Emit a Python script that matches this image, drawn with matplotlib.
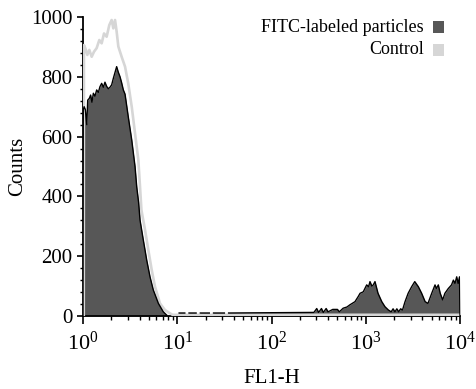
import numpy as np
import matplotlib
matplotlib.use("Agg")
import matplotlib.pyplot as plt
from matplotlib.ticker import MultipleLocator, LogLocator, NullFormatter
from matplotlib.patches import Rectangle

plt.rcParams['font.family'] = ['Liberation Serif', 'DejaVu Serif']
plt.rcParams['mathtext.fontset'] = 'custom'
plt.rcParams['mathtext.rm'] = 'Liberation Serif'
plt.rcParams['mathtext.it'] = 'Liberation Serif:italic'

# FITC-labeled particles: log10(FL1-H) positions and counts
fitc_log10 = [0.0, 0.003, 0.012, 0.025, 0.04, 0.05, 0.067, 0.081, 0.095, 0.11, 0.127, 0.145,
              0.163, 0.18, 0.198, 0.216, 0.233, 0.251, 0.269, 0.286, 0.304, 0.322, 0.34,
              0.357, 0.375, 0.393, 0.41, 0.428, 0.446, 0.48, 0.517, 0.552, 0.57, 0.59,
              0.605, 0.64, 0.676, 0.711, 0.746, 0.8, 0.852, 0.888, 0.92,
              1.0, 1.01, 1.02, 1.08, 1.085, 1.12, 1.125, 1.2, 1.205, 1.24, 1.245, 1.34,
              1.345, 1.38, 1.385, 1.5, 1.505, 1.54, 1.545,
              2.45, 2.48, 2.5, 2.53, 2.55, 2.58, 2.6, 2.65, 2.7, 2.72, 2.76, 2.8, 2.83,
              2.886, 2.92, 2.94, 2.974, 3.01, 3.03, 3.045, 3.065, 3.08, 3.098, 3.13, 3.17,
              3.204, 3.24, 3.27, 3.29, 3.31, 3.33, 3.35, 3.37, 3.39, 3.417, 3.45, 3.487,
              3.52, 3.558, 3.593, 3.63, 3.66, 3.70, 3.735, 3.75, 3.77, 3.79, 3.816, 3.84,
              3.876, 3.91, 3.93, 3.947, 3.965, 3.98, 3.995, 4.0]
fitc_counts = [0, 690, 700, 690, 640, 722, 728, 739, 715, 745, 735, 756,
               748, 767, 778, 765, 782, 768, 760, 765, 773, 795, 815,
               834, 815, 800, 780, 756, 742, 667, 589, 500, 432, 380,
               321, 254, 187, 131, 87, 42, 14, 3, 0,
               0, 0, 10, 10, 0, 0, 10, 10, 0, 0, 10, 10,
               0, 0, 10, 10, 0, 0, 10,
               12, 25, 12, 25, 12, 25, 14, 22, 22, 14, 26, 30, 37,
               48, 65, 76, 81, 104, 98, 115, 100, 104, 115, 76, 48,
               31, 20, 14, 24, 14, 24, 14, 24, 20, 48, 76, 98,
               115, 98, 76, 48, 42, 76, 104, 92, 104, 76, 54, 76,
               92, 104, 120, 109, 131, 109, 131, 0]

# Control: log10(FL1-H) positions and counts
ctrl_log10 = [0.008, 0.01, 0.025, 0.046, 0.067, 0.092, 0.117, 0.145, 0.173, 0.198, 0.223,
              0.251, 0.279, 0.304, 0.322, 0.34, 0.357, 0.375, 0.41, 0.446, 0.48, 0.517,
              0.552, 0.587, 0.605, 0.62, 0.658, 0.693, 0.729, 0.764, 0.817, 0.87, 0.923,
              0.95, 4.0]
ctrl_counts = [0, 906, 895, 873, 890, 867, 884, 896, 923, 912, 945,
               934, 973, 990, 962, 990, 951, 901, 867, 834, 778, 700,
               611, 522, 432, 354, 288, 221, 154, 98, 42, 20, 9,
               4, 4]

legend_labels = ['FITC-labeled particles', 'Control']
dark = '#575757'
light = '#d6d6d6'

fig = plt.figure(figsize=(4.76, 3.89), dpi=100)
ax = fig.add_axes([83/476, 1 - 316/389, (460-83)/476, (316-17)/389])

fx = 10 ** np.array(fitc_log10)
fy = np.array(fitc_counts, dtype=float)
cx = 10 ** np.array(ctrl_log10)
cy = np.array(ctrl_counts, dtype=float)

ax.fill_between(fx, 0, fy, color=dark, linewidth=0, zorder=2)
ax.plot(cx, cy, color=light, linewidth=1.9, zorder=3, solid_joinstyle='round')
outline = np.where(fy > 0, fy, np.nan)
outline[0] = 0
outline[-1] = 0
ax.plot(fx, outline, color='black', linewidth=1.0, zorder=4)

ax.set_xscale('log')
ax.set_xlim(1, 10000)
ax.set_ylim(0, 1000)

ax.spines['top'].set_visible(False)
ax.spines['right'].set_visible(False)
ax.spines['left'].set_linewidth(1.3)
ax.spines['bottom'].set_linewidth(1.3)

ax.set_xticks([1, 10, 100, 1000, 10000])
ax.set_xticklabels([r'$\mathregular{10^{%d}}$' % i for i in range(5)])
ax.xaxis.set_minor_locator(LogLocator(base=10, subs=np.arange(2, 10)))
ax.xaxis.set_minor_formatter(NullFormatter())
ax.set_yticks([0, 200, 400, 600, 800, 1000])
ax.yaxis.set_minor_locator(MultipleLocator(40))

ax.tick_params(axis='x', which='major', direction='out', length=6, width=1.2, labelsize=16, pad=5)
ax.tick_params(axis='x', which='minor', direction='out', length=3, width=1.0)
ax.tick_params(axis='y', which='major', direction='out', length=4.5, width=1.2, labelsize=15, pad=3)
ax.tick_params(axis='y', which='minor', direction='out', length=2.5, width=1.0)

ax.set_xlabel('FL1-H', fontsize=15, labelpad=10.5)
ax.set_ylabel('Counts', fontsize=15, labelpad=3)

# legend
for i, (lab, col) in enumerate(zip(legend_labels, [dark, light])):
    yc = 1 - (27 + 23 * i) / 389
    fig.text(424/476, yc, lab, ha='right', va='center', fontsize=13)
    fig.patches.append(Rectangle((433/476, yc - 6/389), 11/476, 12/389,
                                 transform=fig.transFigure, facecolor=col,
                                 edgecolor='none', figure=fig))

fig.savefig('out.png', dpi=100)
